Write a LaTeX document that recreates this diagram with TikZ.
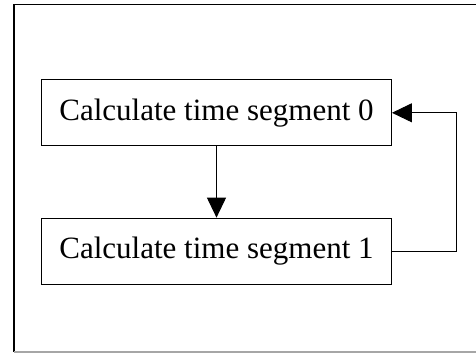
\documentclass[tikz,border=0pt]{standalone}
\usepackage{fontspec}
\setmainfont{Liberation Serif}
\usetikzlibrary{arrows.meta}
\begin{document}
\begin{tikzpicture}[x=1pt,y=-1pt,
  stepbox/.style={draw, line width=1.3pt, minimum width=349.6pt, minimum height=66pt,
    inner sep=0pt, font=\fontsize{31}{37}\selectfont},
  flow/.style={line width=1pt, -{Triangle[length=20pt,width=19pt]}}]
  \useasboundingbox (0,0) rectangle (476,353);
  % outer frame: top and left black, bottom light grey
  \draw[line width=1.5pt] (476,4.5) -- (14,4.5) -- (14,352);
  \draw[line width=1.5pt, black!35] (14,352) -- (476,352);
  % the two steps
  \node[stepbox] (seg0) at (216.5,112.8) {Calculate time segment 0};
  \node[stepbox] (seg1) at (216.5,251.3) {Calculate time segment 1};
  % connectors
  \draw[flow] (seg0.south) -- (seg1.north);
  \coordinate (turn) at (456,0);
  \draw[flow] (seg1.east) -- (seg1.east -| turn) -- (seg0.east -| turn) -- (seg0.east);
\end{tikzpicture}
\end{document}
